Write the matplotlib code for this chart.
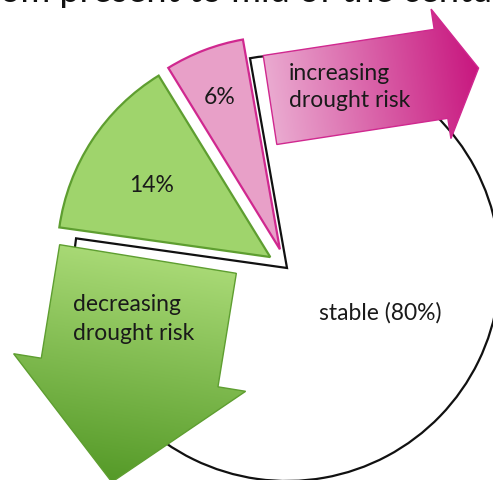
import numpy as np
import matplotlib.pyplot as plt
from matplotlib.patches import Polygon
from matplotlib.colors import LinearSegmentedColormap

plt.rcParams['font.family'] = ['Lato', 'DejaVu Sans']

# share of grid cells per drought-risk class
labels = ['6%', '14%', 'stable (80%)']
shares = [6, 14, 80]
face_colors = ['#e8a0c8', '#9fd46c', '#ffffff']
edge_colors = ['#d0288f', '#5e9e30', '#111111']
explode = [20, 20, 0]

W, H = 493, 480
fig = plt.figure(figsize=(W / 100, H / 100), dpi=100)
ax = fig.add_axes([0, 0, 1, 1])

R = 213
center = (287, 212)
wedges, _ = ax.pie(shares, colors=face_colors, explode=explode, radius=R,
                   center=center, startangle=100, counterclock=True,
                   wedgeprops=dict(linewidth=1.6))
for w, ec in zip(wedges, edge_colors):
    w.set_edgecolor(ec)
    w.set_zorder(1)

ax.set_xlim(0, W)
ax.set_ylim(0, H)
ax.set_aspect('equal')
ax.axis('off')


def block_arrow(x0, y0, angle, length, body_w, head_w, head_len):
    a = np.deg2rad(angle)
    u = np.array([np.cos(a), np.sin(a)])
    n = np.array([-np.sin(a), np.cos(a)])
    p0 = np.array([x0, y0])
    base = length - head_len
    pts = [p0 + n * body_w / 2,
           p0 + u * base + n * body_w / 2,
           p0 + u * base + n * head_w / 2,
           p0 + u * length,
           p0 + u * base - n * head_w / 2,
           p0 + u * base - n * body_w / 2,
           p0 - n * body_w / 2]
    return np.array(pts), p0, u, length


def draw_arrow(geom, c0, c1, edge):
    pts, p0, u, length = geom
    poly = Polygon(pts, closed=True, facecolor='none', edgecolor=edge,
                   linewidth=1.0, zorder=4)
    ax.add_patch(poly)
    xs = np.linspace(0, W, 400)
    ys = np.linspace(0, H, 400)
    gx, gy = np.meshgrid(xs, ys)
    t = ((gx - p0[0]) * u[0] + (gy - p0[1]) * u[1]) / length
    cmap = LinearSegmentedColormap.from_list('g', [c0, c1])
    im = ax.imshow(np.clip(t, 0, 1), cmap=cmap, vmin=0, vmax=1,
                   extent=(0, W, 0, H), origin='lower', zorder=3,
                   interpolation='bilinear')
    im.set_clip_path(poly)


pink = block_arrow(270, 380, 8.7, 211, 90, 131, 38)
draw_arrow(pink, '#eaaad0', '#c8177f', '#d0288f')

green = block_arrow(148, 221, -99.2, 226, 179, 235, 111)
draw_arrow(green, '#a8d975', '#559a28', '#5e9e30')

txt = dict(color='#1a1a1a', fontsize=16.5)
ax.text(220, 383, labels[0], ha='center', va='center', zorder=5, **txt)
ax.text(152, 294, labels[1], ha='center', va='center', zorder=5, **txt)
ax.text(380, 167, labels[2], ha='center', va='center', zorder=5, **txt)
ax.text(289, 393, 'increasing\ndrought risk', ha='left', va='center',
        linespacing=1.4, zorder=5, **txt)
ax.text(73, 161, 'decreasing\ndrought risk', ha='left', va='center',
        linespacing=1.45, zorder=5, **txt)

ax.text(W / 2, H - 2, 'om present to mid of the centu', ha='center',
        va='baseline', fontsize=26, color='#111111', zorder=5)

fig.savefig('out.png', dpi=100)
